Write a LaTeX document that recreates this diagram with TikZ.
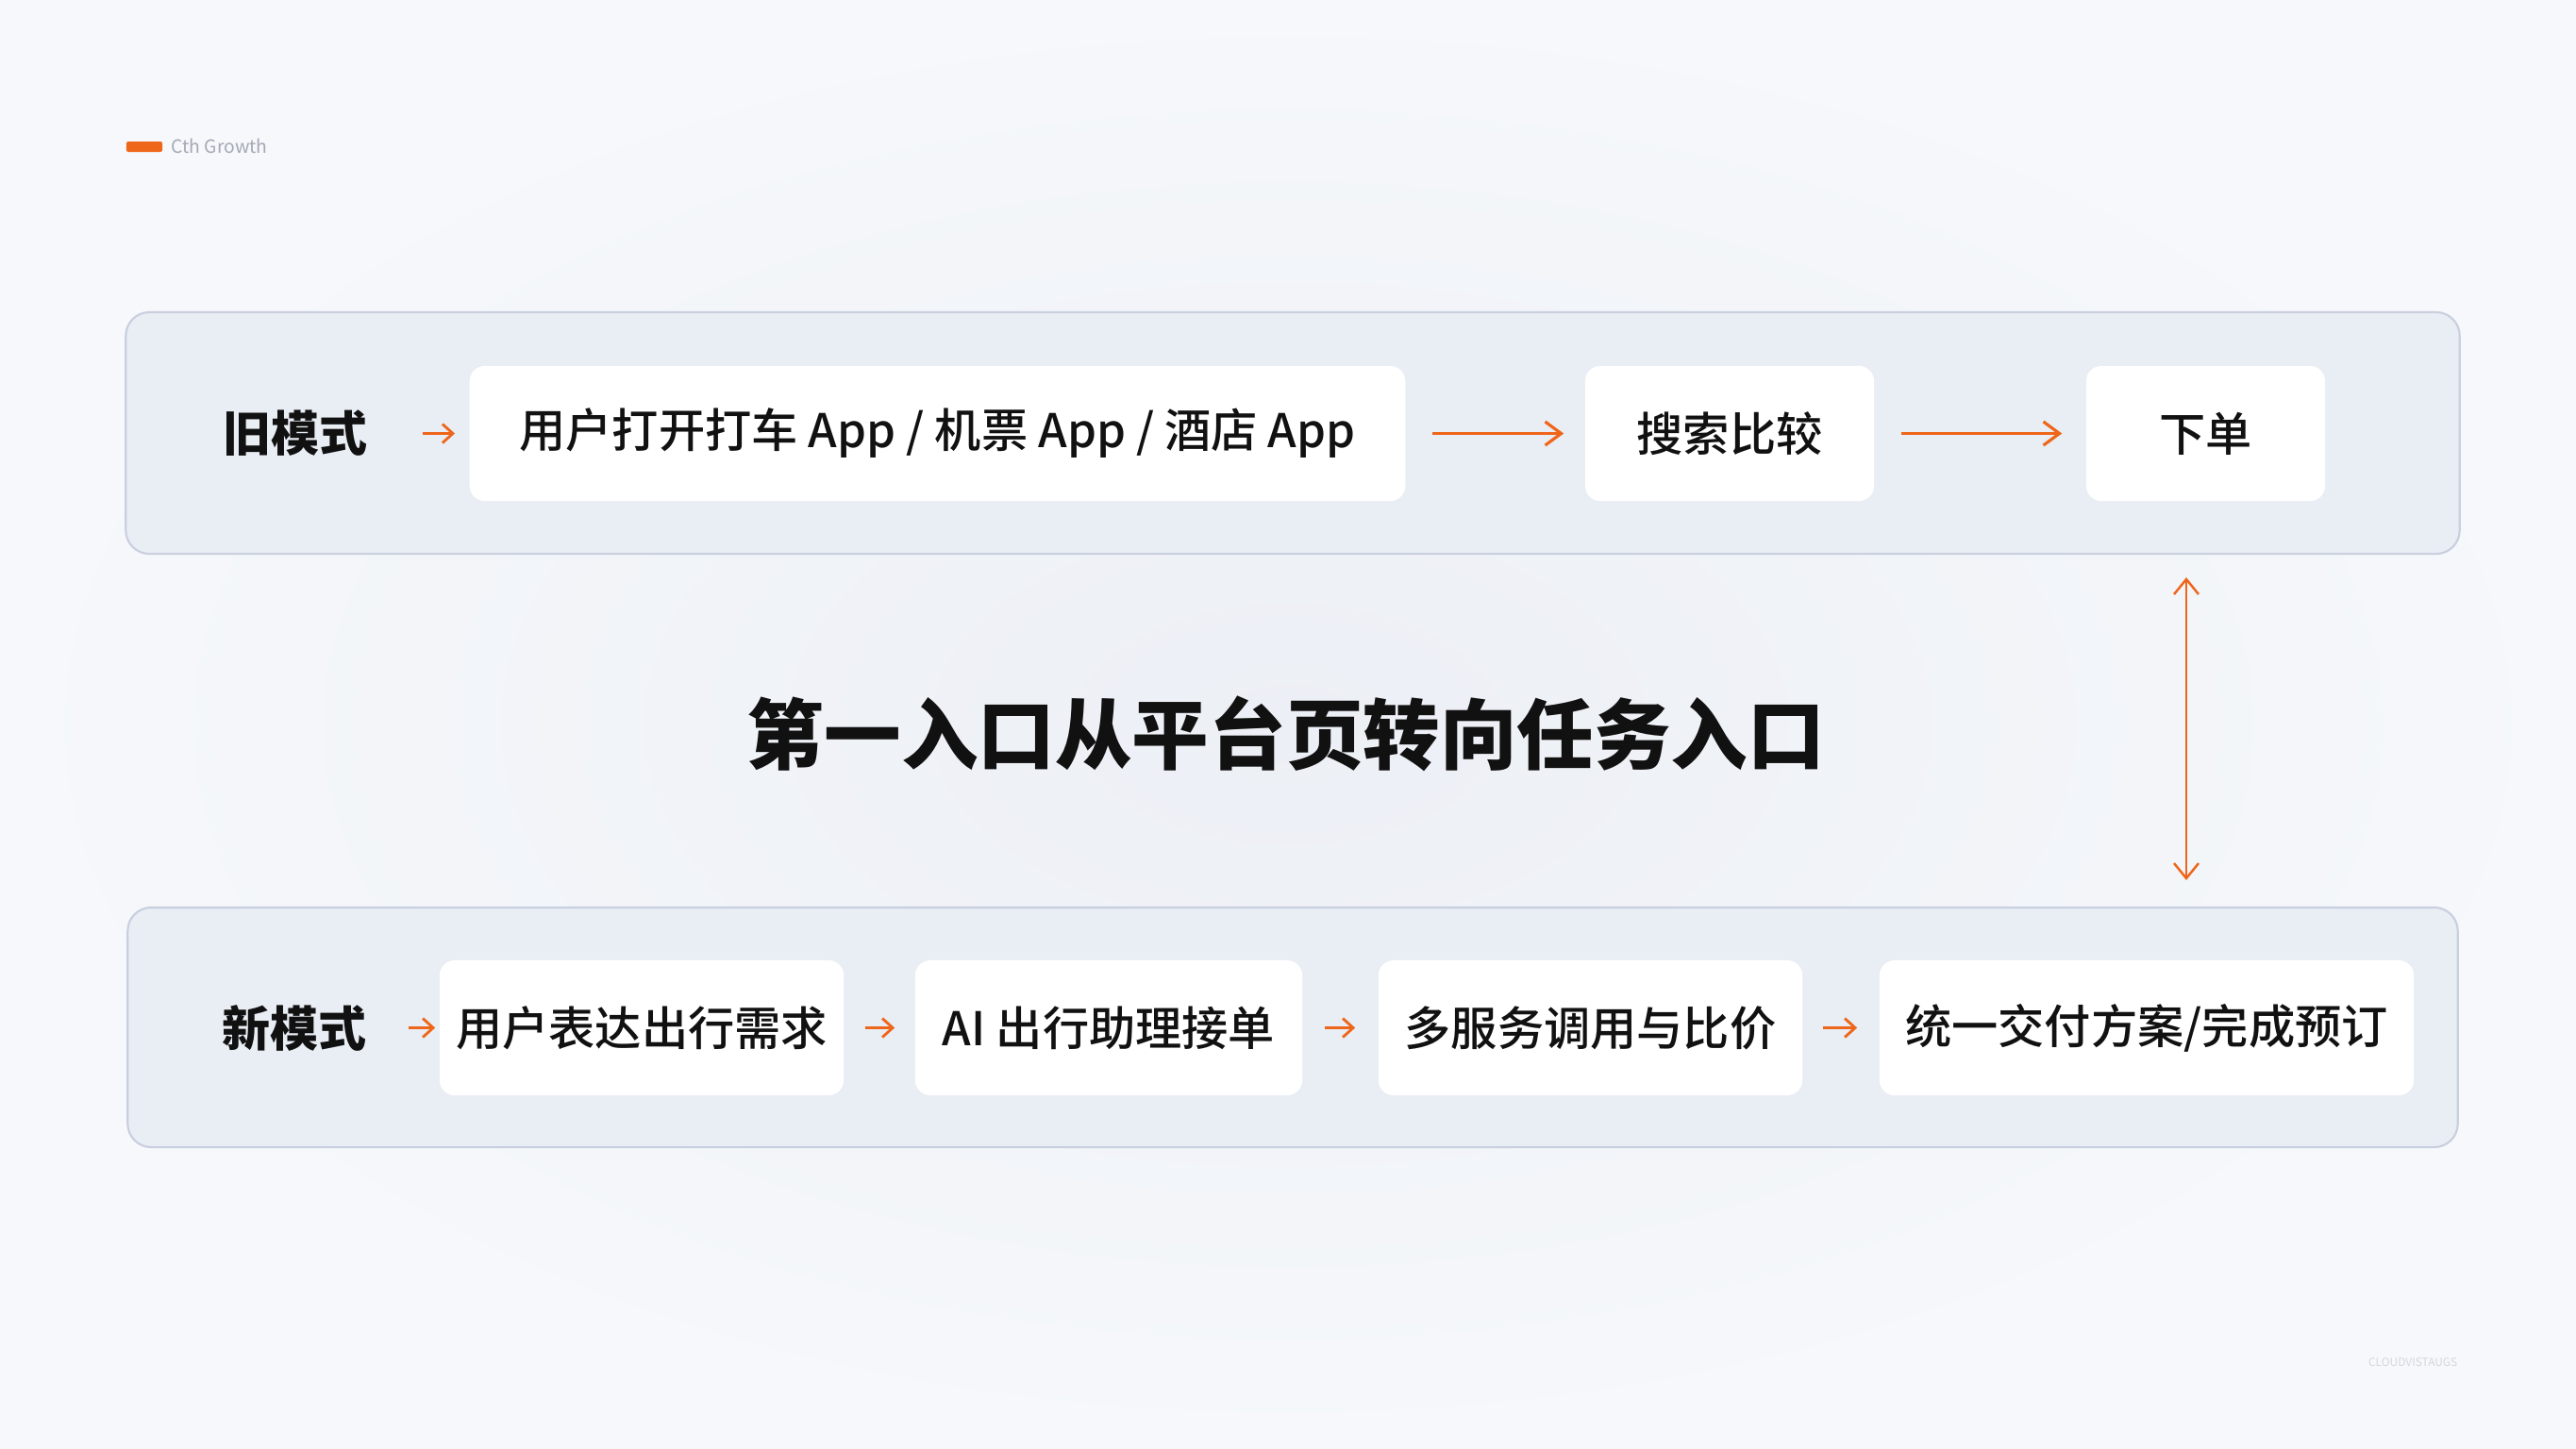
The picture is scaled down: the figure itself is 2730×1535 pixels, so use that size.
\documentclass[tikz,border=0pt]{standalone}
\usepackage{fontspec}
\setmainfont{Noto Sans CJK SC}
\newfontfamily\medfont{Noto Sans CJK SC Medium}
\usetikzlibrary{arrows.meta}
\definecolor{bgA}{HTML}{ECEFF5}
\definecolor{bgB}{HTML}{F6F8FB}
\definecolor{panel}{HTML}{E9EDF4}
\definecolor{panelline}{HTML}{C8CFDE}
\definecolor{accent}{HTML}{EE661A}
\definecolor{ink}{HTML}{111111}
\definecolor{brandgray}{HTML}{A3A9B6}
\definecolor{wmgray}{HTML}{D3D7DF}
\begin{document}
\begin{tikzpicture}[x=0.01cm,y=-0.01cm,
  panelbox/.style={draw=panelline, line width=0.6pt, fill=panel, rounded corners=0.25cm, minimum height=2.56cm, inner sep=0},
  stepbox/.style={fill=white, rounded corners=0.16cm, minimum height=1.43cm, inner sep=0, font=\fontsize{14}{16}\medfont, text=ink},
  modelbl/.style={font=\fontsize{14.5}{17}\selectfont\bfseries, inner sep=0, text=ink},
  flow/.style={draw=accent, line width=0.9pt, -{Straight Barb[length=0.17cm, width=0.25cm]}},
  smallflow/.style={draw=accent, line width=0.8pt, -{Straight Barb[length=0.11cm, width=0.2cm]}},
  vflow/.style={draw=accent, line width=0.7pt, {Straight Barb[length=0.16cm, width=0.26cm]}-{Straight Barb[length=0.16cm, width=0.26cm]}}
]
\useasboundingbox (0,0) rectangle (2730,1535);
\shade[inner color=bgA, outer color=bgB] (0,0) rectangle (2730,1535);

% brand
\node[fill=accent, minimum width=0.38cm, minimum height=0.11cm, inner sep=0, rounded corners=0.02cm] (logo) at (153,155.5) {};
\node[anchor=west, inner sep=0, text=brandgray, font=\fontsize{5.5}{6}\selectfont] (brand) at (181,155) {Cth Growth};
\node[anchor=east, inner sep=0, text=wmgray, font=\fontsize{3.4}{4}\selectfont] (wm) at (2605,1444) {CLOUDVISTAUGS};

% panels
\node[panelbox, minimum width=24.72cm] (oldp) at (1370,459) {};
\node[panelbox, minimum width=24.68cm, minimum height=2.54cm] (newp) at (1370,1089) {};

% old mode
\node[modelbl] (oldl) at (313,459.5) {旧模式};
\node[stepbox, minimum width=9.91cm] (o1) at (993.5,459.5) {用户打开打车 App / 机票 App / 酒店 App};
\node[stepbox, minimum width=3.06cm] (o2) at (1833,459.5) {搜索比较};
\node[stepbox, minimum width=2.53cm] (o3) at (2337.5,459.5) {下单};

\draw[smallflow, shorten <=0.58cm, shorten >=0.15cm] (oldl.east) -- (o1.west);
\draw[flow, shorten <=0.28cm, shorten >=0.22cm] (o1.east) -- (o2.west);
\draw[flow, shorten <=0.28cm, shorten >=0.25cm] (o2.east) -- (o3.west);

% title
\node[font=\fontsize{23.2}{28}\selectfont\bfseries, text=ink, inner sep=0] (title) at (1363,778) {第一入口从平台页转向任务入口};

% vertical double arrow
\coordinate (vt) at (2317,612);
\coordinate (vb) at (2317,933);
\draw[vflow] (vt) -- (vb);

% new mode
\node[modelbl] (newl) at (312,1089.5) {新模式};
\node[stepbox, minimum width=4.28cm] (n1) at (680,1089.5) {用户表达出行需求};
\node[stepbox, minimum width=4.10cm] (n2) at (1175,1089.5) {AI 出行助理接单};
\node[stepbox, minimum width=4.49cm] (n3) at (1685.5,1089.5) {多服务调用与比价};
\node[stepbox, minimum width=5.66cm] (n4) at (2275,1089.5) {统一交付方案/完成预订};

\draw[smallflow, shorten <=0.44cm, shorten >=0.04cm] (newl.east) -- (n1.west);
\draw[smallflow, shorten <=0.22cm, shorten >=0.21cm] (n1.east) -- (n2.west);
\draw[smallflow, shorten <=0.23cm, shorten >=0.24cm] (n2.east) -- (n3.west);
\draw[smallflow, shorten <=0.21cm, shorten >=0.23cm] (n3.east) -- (n4.west);
\end{tikzpicture}
\end{document}
